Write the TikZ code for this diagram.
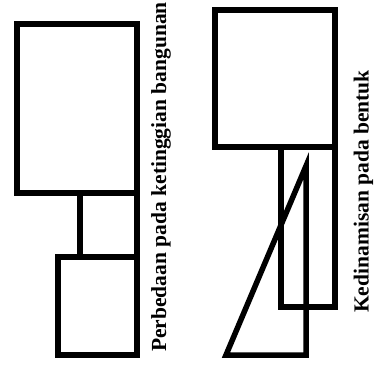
\documentclass[tikz,border=0pt]{standalone}
\usepackage{fontspec}
\setmainfont{Liberation Serif}
\usepackage{tikz}

\begin{document}
\begin{tikzpicture}[x=1pt,y=-1pt,line width=5.5pt,every node/.style={inner sep=0pt,font=\fontsize{21.5}{24}\selectfont\bfseries}]
    \useasboundingbox (0,0) rectangle (374,380);
    % ketinggian
    \draw (17,24) rectangle (137,193);
    \draw (80,193) -- (80,257);
    \draw (137,193) -- (137,257);
    \draw (58,257) rectangle (137,355);
    \node[rotate=90,anchor=base] (tinggi) at (166,177) {Perbedaan pada ketinggian bangunan};
    % kedinamisan
    \draw (215,10) rectangle (335,147);
    \draw (281,147) rectangle (335,307);
    \draw (306,166) -- (306,355) -- (226,355) -- cycle;
    \node[rotate=90,anchor=base] (dinamis) at (368.5,191.5) {Kedinamisan pada bentuk};
\end{tikzpicture}
\end{document}
